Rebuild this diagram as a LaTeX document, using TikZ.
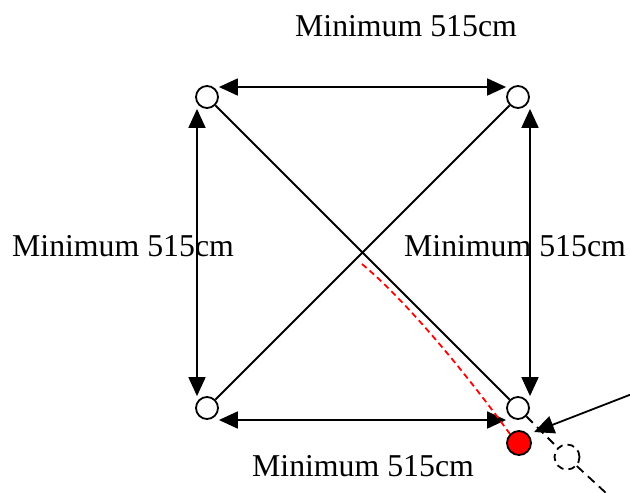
\documentclass[tikz,border=0pt]{standalone}
\usepackage{fontspec}
\setmainfont{Liberation Serif}
\usepackage{tikz}
\usetikzlibrary{arrows.meta, positioning, calc}

\begin{document}
\begin{tikzpicture}[
    x=1pt, y=-1pt,
    line width=1.8pt,
    post/.style={draw, circle, line width=1.8pt, minimum size=22pt, inner sep=0pt, fill=white},
    gap/.style={draw, circle, line width=1.8pt, minimum size=24pt, inner sep=0pt, fill=red},
    ghost/.style={draw, circle, dash pattern=on 7pt off 5pt, line width=1.8pt, minimum size=25pt, inner sep=0pt},
    span/.style={{Triangle[length=19pt, width=17pt]}-{Triangle[length=19pt, width=17pt]}},
    label/.style={font=\fontsize{31.8}{36}\selectfont, inner sep=0pt}
]
    \useasboundingbox (0,0) rectangle (630,493);

    % corner posts
    \node[post] (tl) at (207,97) {};
    \node[post] (tr) at (518,97) {};
    \node[post] (bl) at (207,408) {};
    \node[post] (br) at (518,408) {};
    \node[gap] (red) at (519,443) {};
    \node[ghost] (ghost) at (567,457) {};
    \coordinate (far) at (606,493);
    \coordinate (src) at (632,394);
    \coordinate (aim) at (534,432);
    \coordinate (bend) at (362,264);

    % distances
    \draw[span] ([yshift=10pt]tl.east) -- ([yshift=10pt]tr.west);
    \draw[span] ([yshift=-12pt]bl.east) -- ([yshift=-12pt]br.west);
    \draw[span] ([xshift=-10pt]tl.south) -- ([xshift=-10pt]bl.north);
    \draw[span] ([xshift=12pt]tr.south) -- ([xshift=12pt]br.north);

    % diagonals
    \draw (tl) -- (br);
    \draw (bl) -- (tr);
    \draw[dash pattern=on 9pt off 6pt] (br) -- (ghost) -- (far);
    \draw[red, dash pattern=on 6pt off 4pt] (bend) .. controls (405,300) and (462,368) .. (red.north west);
    \draw[-{Triangle[length=20pt, width=18pt]}] (src) -- (aim);

    \node[label] (ltop) at (406,26) {Minimum 515cm};
    \node[label] (lleft) at (123,246) {Minimum 515cm};
    \node[label] (lright) at (515,246) {Minimum 515cm};
    \node[label] (lbot) at (363,466) {Minimum 515cm};
\end{tikzpicture}
\end{document}
